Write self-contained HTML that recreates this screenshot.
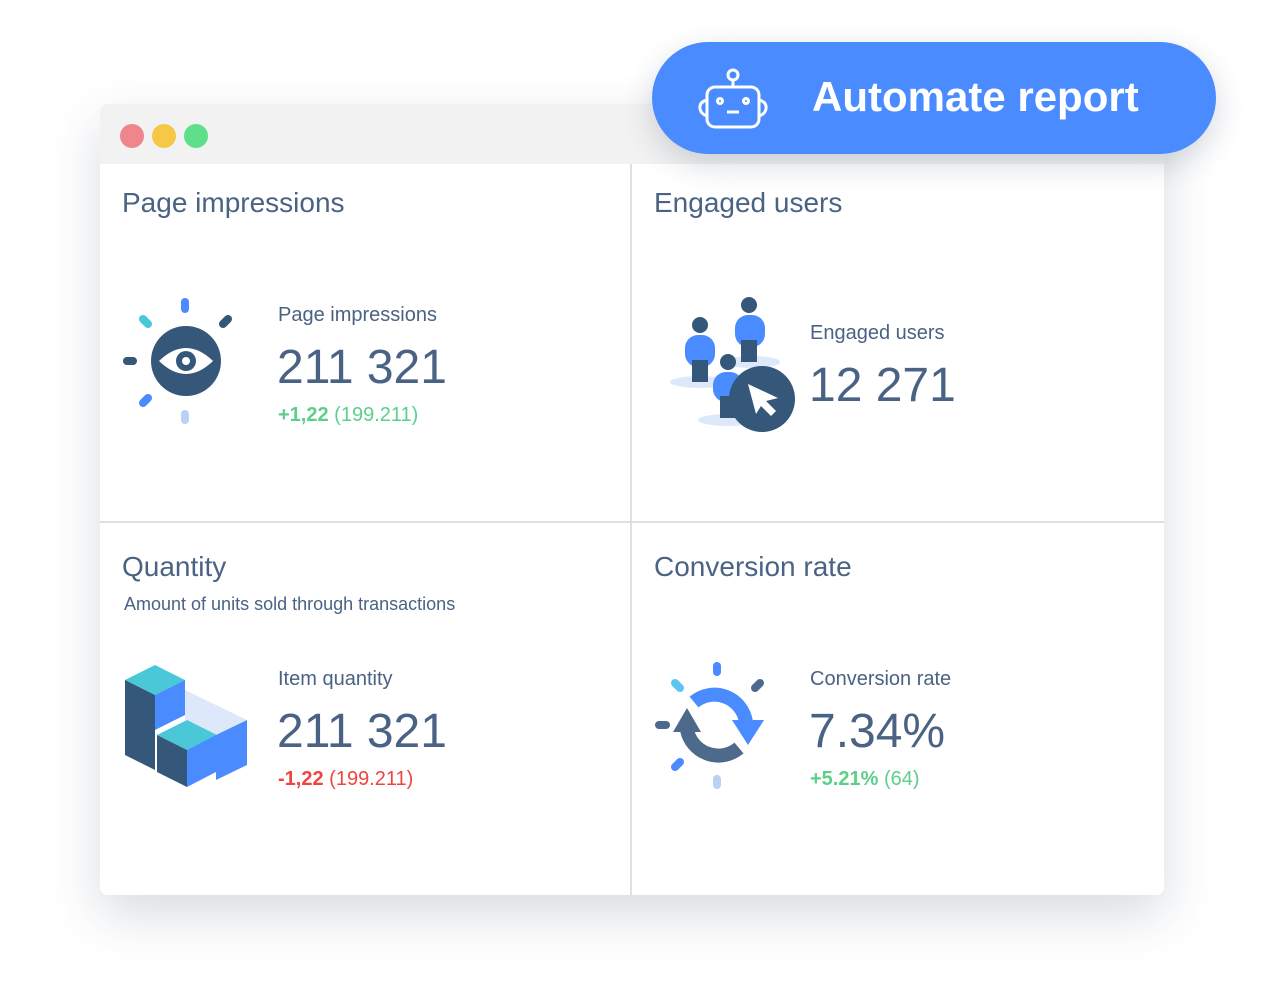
<!DOCTYPE html>
<html><head><meta charset="utf-8"><style>
*{margin:0;padding:0;box-sizing:border-box}
body{width:1264px;height:1000px;background:#fff;position:relative;overflow:hidden;font-family:"Liberation Sans",sans-serif;color:#4a6283}
.card{position:absolute;left:100px;top:104px;width:1064px;height:791px;background:#fff;border-radius:8px;box-shadow:0 20px 50px rgba(40,60,90,0.18);overflow:hidden}
.bar{position:absolute;left:0;top:0;width:1064px;height:60px;background:#f2f2f2}
.dot{position:absolute;top:20px;width:24px;height:24px;border-radius:50%}
.vl{position:absolute;left:530px;top:60px;width:2px;height:731px;background:#dde1e6}
.hl{position:absolute;left:0;top:417px;width:1064px;height:2px;background:#dde1e6}
.t{position:absolute;font-size:28px;white-space:nowrap}
.s{position:absolute;font-size:20px;white-space:nowrap}
.n{position:absolute;font-size:48px;white-space:nowrap}
.btn{position:absolute;left:652px;top:42px;width:564px;height:112px;border-radius:56px;background:#4a8bff;box-shadow:0 10px 30px rgba(40,60,90,0.2)}
.btn span{position:absolute;left:160px;top:31px;font-size:42px;font-weight:bold;color:#fff}
.g{color:#5ccf8a}.r{color:#f0443f}
</style></head><body>
<div class="card">
<div class="bar"></div>
<div class="dot" style="left:20px;background:#f0868c"></div>
<div class="dot" style="left:52px;background:#f5c847"></div>
<div class="dot" style="left:84px;background:#5ee08a"></div>
<div class="vl"></div><div class="hl"></div>
<div class="t" style="left:22px;top:83px">Page impressions</div>
<div class="t" style="left:554px;top:83px">Engaged users</div>
<div class="t" style="left:22px;top:447px">Quantity</div>
<div class="s" style="left:24px;top:490px;font-size:18px">Amount of units sold through transactions</div>
<div class="t" style="left:554px;top:447px">Conversion rate</div>

<div class="s" style="left:178px;top:200px">Page impressions</div>
<div class="n" style="left:177px;top:236px">211 321</div>
<div class="s" style="left:178px;top:300px"><b class="g">+1,22</b> <span class="g">(199.211)</span></div>

<div class="s" style="left:710px;top:218px">Engaged users</div>
<div class="n" style="left:709px;top:254px">12 271</div>

<div class="s" style="left:178px;top:564px">Item quantity</div>
<div class="n" style="left:177px;top:600px">211 321</div>
<div class="s" style="left:178px;top:664px"><b class="r">-1,22</b> <span class="r">(199.211)</span></div>

<div class="s" style="left:710px;top:564px">Conversion rate</div>
<div class="n" style="left:709px;top:600px">7.34%</div>
<div class="s" style="left:710px;top:664px"><b class="g">+5.21%</b> <span class="g">(64)</span></div>
</div>

<svg style="position:absolute;left:0;top:0" width="1264" height="1000">
<g stroke-linecap="round" stroke-width="8">
<line x1="185" y1="302" x2="185" y2="309" stroke="#4a8bff"/>
<line x1="143" y1="319" x2="148" y2="324" stroke="#4ac8d8"/>
<line x1="228" y1="319" x2="223" y2="324" stroke="#34577a"/>
<line x1="127" y1="361" x2="133" y2="361" stroke="#34577a"/>
<line x1="143" y1="403" x2="148" y2="398" stroke="#4a8bff"/>
<line x1="185" y1="414" x2="185" y2="420" stroke="#b8d2f5"/>
</g>
<circle cx="186" cy="361" r="35" fill="#34577a"/>
<path d="M159 361 Q186 335 213 361 Q186 387 159 361Z" fill="#fff"/>
<circle cx="186" cy="361" r="10" fill="#34577a"/><circle cx="186" cy="361" r="4" fill="#fff"/>

<ellipse cx="700" cy="382" rx="30" ry="6" fill="#dde9fb"/>
<ellipse cx="752" cy="362" rx="28" ry="6" fill="#dde9fb"/>
<ellipse cx="728" cy="420" rx="30" ry="6" fill="#dde9fb"/>
<circle cx="700" cy="325" r="8" fill="#34577a"/><rect x="685" y="335" width="30" height="32" rx="13" fill="#4a8bff"/><rect x="692" y="360" width="16" height="22" fill="#34577a"/>
<circle cx="749" cy="305" r="8" fill="#34577a"/><rect x="735" y="315" width="30" height="32" rx="13" fill="#4a8bff"/><rect x="741" y="340" width="16" height="22" fill="#34577a"/>
<circle cx="728" cy="362" r="8" fill="#34577a"/><rect x="713" y="372" width="30" height="30" rx="13" fill="#4a8bff"/><rect x="720" y="396" width="16" height="22" fill="#34577a"/>
<circle cx="762" cy="399" r="33" fill="#34577a"/>
<path d="M748 384 L778 398 L766 401 L776 411 L771 416 L761 406 L756 414Z" fill="#fff"/>

<polygon points="125,680 155,665 185,680 155,695" fill="#4ac8d8"/>
<polygon points="125,680 155,695 155,770 125,755" fill="#34577a"/>
<polygon points="155,695 185,680 185,715 155,730" fill="#4a8bff"/>
<polygon points="185,690 216,705 247,720 216,735 185,720" fill="#dde9fb"/>
<polygon points="216,735 247,720 247,765 216,780" fill="#4a8bff"/>
<polygon points="157,735 187,720 217,735 187,750" fill="#4ac8d8"/>
<polygon points="157,735 187,750 187,787 157,772" fill="#34577a"/>
<polygon points="187,750 216,735 216,772 187,787" fill="#4a8bff"/>

<g stroke-linecap="round" stroke-width="8">
<line x1="717" y1="666" x2="717" y2="672" stroke="#4a8bff"/>
<line x1="675" y1="683" x2="680" y2="688" stroke="#5bc7f0"/>
<line x1="760" y1="683" x2="755" y2="688" stroke="#4d6a8d"/>
<line x1="659" y1="725" x2="666" y2="725" stroke="#4d6a8d"/>
<line x1="675" y1="767" x2="680" y2="762" stroke="#4a8bff"/>
<line x1="717" y1="779" x2="717" y2="785" stroke="#b8d2f5"/>
</g>
<path d="M694 702 A32 32 0 0 1 746 722" fill="none" stroke="#4a8bff" stroke-width="14"/>
<polygon points="732,720 764,720 748,745" fill="#4a8bff"/>
<path d="M739 748 A32 32 0 0 1 687 730" fill="none" stroke="#4d6a8d" stroke-width="14"/>
<polygon points="673,732 701,732 687,708" fill="#4d6a8d"/>
</svg>

<div class="btn">
<svg style="position:absolute;left:44px;top:24px" width="72" height="64" fill="none" stroke="#fff" stroke-width="3">
<circle cx="37" cy="9" r="5"/><line x1="37" y1="14" x2="37" y2="21"/>
<rect x="11" y="21" width="52" height="40" rx="8"/>
<path d="M11 34 Q3 36 4 43 Q5 48 11 50"/><path d="M63 34 Q71 36 70 43 Q69 48 63 50"/>
<circle cx="24" cy="35" r="2.5"/><circle cx="50" cy="35" r="2.5"/><line x1="31" y1="46" x2="43" y2="46"/>
</svg>
<span>Automate report</span>
</div>
</body></html>
